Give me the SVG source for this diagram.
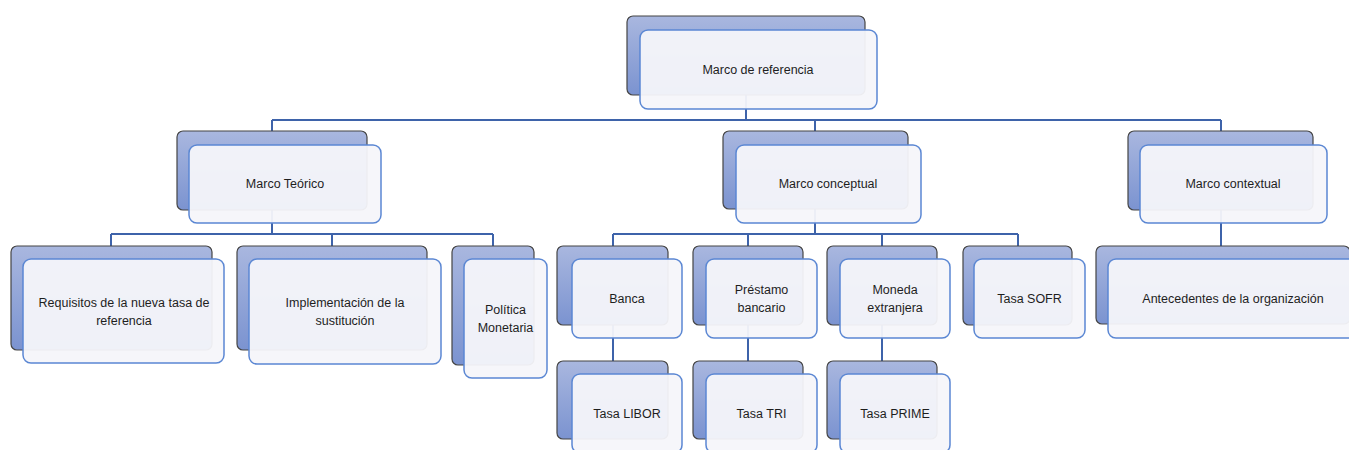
<svg xmlns="http://www.w3.org/2000/svg" width="1349" height="450" viewBox="0 0 1349 450">
<defs>
<linearGradient id="bg" x1="0" y1="0" x2="0" y2="1">
<stop offset="0" stop-color="#a9b7df"/>
<stop offset="1" stop-color="#7b93d0"/>
</linearGradient>
<style>
.back{fill:url(#bg);stroke:#454545;stroke-width:1.2}
.front{fill:#f5f6fa;fill-opacity:0.95;stroke:#5b87d3;stroke-width:1.5}
.t{font-family:"Liberation Sans",Arial,sans-serif;font-size:12.5px;fill:#1e1e1e;text-anchor:middle}
.c{fill:none;stroke:#3e63aa;stroke-width:2}
</style>
</defs>
<rect width="1349" height="450" fill="#ffffff"/>
<g id="connectors">
<path class="c" d="M746 95V120M272 120H1221M272 120V131M815 120V131M1221 120V131"/>
<path class="c" d="M272 210V234M111 234H493M111 234V246M332 234V246M493 234V246"/>
<path class="c" d="M815 209V234M613 234H1018M613 234V246M748 234V246M882 234V246M1018 234V246"/>
<path class="c" d="M1221 210V246"/>
<path class="c" d="M613 325V361M748 325V361M882 325V361"/>
</g>
<g id="n-root">
<rect class="back" x="627" y="16" width="238" height="79" rx="6"/>
<rect class="front" x="640" y="30" width="237" height="79" rx="8"/>
<text class="t" x="758" y="74">Marco de referencia</text>
</g>
<g id="n-teorico">
<rect class="back" x="177" y="131" width="190" height="79" rx="6"/>
<rect class="front" x="189" y="145" width="192" height="78" rx="8"/>
<text class="t" x="285" y="188">Marco Teórico</text>
</g>
<g id="n-conceptual">
<rect class="back" x="723" y="131" width="185" height="78" rx="6"/>
<rect class="front" x="736" y="145" width="185" height="78" rx="8"/>
<text class="t" x="828" y="188">Marco conceptual</text>
</g>
<g id="n-contextual">
<rect class="back" x="1128" y="131" width="185" height="79" rx="6"/>
<rect class="front" x="1140" y="145" width="187" height="78" rx="8"/>
<text class="t" x="1233" y="188">Marco contextual</text>
</g>
<g id="n-requisitos">
<rect class="back" x="11" y="246" width="201" height="104" rx="6"/>
<rect class="front" x="23" y="259" width="201" height="104" rx="8"/>
<text class="t" x="124" y="307">Requisitos de la nueva tasa de</text>
<text class="t" x="124" y="325">referencia</text>
</g>
<g id="n-implementacion">
<rect class="back" x="237" y="246" width="190" height="104" rx="6"/>
<rect class="front" x="249" y="259" width="192" height="105" rx="8"/>
<text class="t" x="345" y="307">Implementación de la</text>
<text class="t" x="345" y="325">sustitución</text>
</g>
<g id="n-politica">
<rect class="back" x="452" y="246" width="82" height="119" rx="6"/>
<rect class="front" x="464" y="259" width="83" height="119" rx="8"/>
<text class="t" x="505.5" y="314">Política</text>
<text class="t" x="505.5" y="332">Monetaria</text>
</g>
<g id="n-banca">
<rect class="back" x="557" y="246" width="111" height="79" rx="6"/>
<rect class="front" x="572" y="259" width="110" height="79" rx="8"/>
<text class="t" x="627" y="303">Banca</text>
</g>
<g id="n-prestamo">
<rect class="back" x="693" y="246" width="110" height="79" rx="6"/>
<rect class="front" x="706" y="259" width="111" height="79" rx="8"/>
<text class="t" x="761.5" y="294">Préstamo</text>
<text class="t" x="761.5" y="312">bancario</text>
</g>
<g id="n-moneda">
<rect class="back" x="827" y="246" width="110" height="79" rx="6"/>
<rect class="front" x="840" y="259" width="110" height="79" rx="8"/>
<text class="t" x="895" y="294">Moneda</text>
<text class="t" x="895" y="312">extranjera</text>
</g>
<g id="n-sofr">
<rect class="back" x="963" y="246" width="109" height="79" rx="6"/>
<rect class="front" x="974" y="259" width="111" height="79" rx="8"/>
<text class="t" x="1029.5" y="303">Tasa SOFR</text>
</g>
<g id="n-antecedentes">
<rect class="back" x="1096" y="246" width="254" height="78" rx="6"/>
<rect class="front" x="1108" y="259" width="250" height="79" rx="8"/>
<text class="t" x="1233" y="303">Antecedentes de la organización</text>
</g>
<g id="n-libor">
<rect class="back" x="557" y="361" width="111" height="78" rx="6"/>
<rect class="front" x="572" y="374" width="110" height="79" rx="8"/>
<text class="t" x="627" y="418">Tasa LIBOR</text>
</g>
<g id="n-tri">
<rect class="back" x="693" y="361" width="110" height="78" rx="6"/>
<rect class="front" x="706" y="374" width="111" height="79" rx="8"/>
<text class="t" x="761.5" y="418">Tasa TRI</text>
</g>
<g id="n-prime">
<rect class="back" x="827" y="361" width="110" height="78" rx="6"/>
<rect class="front" x="840" y="374" width="110" height="79" rx="8"/>
<text class="t" x="895" y="418">Tasa PRIME</text>
</g>
</svg>
